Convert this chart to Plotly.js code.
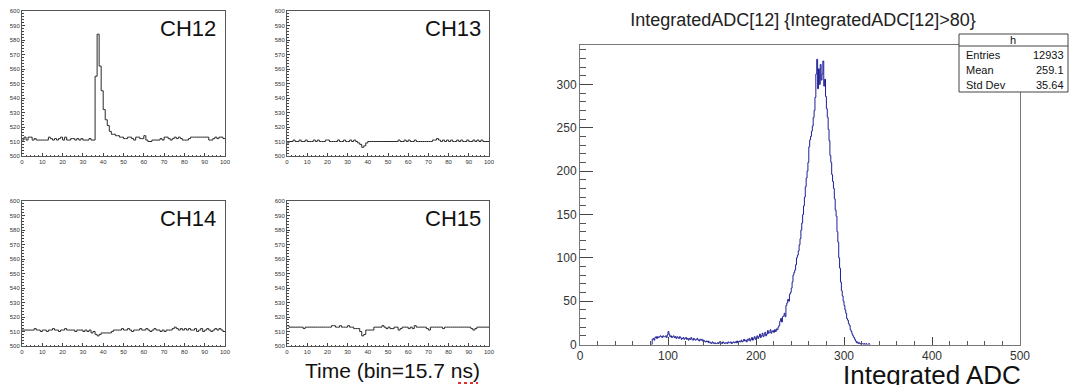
<!DOCTYPE html>
<html>
<head>
<meta charset="utf-8">
<script src="https://cdn.plot.ly/plotly-3.0.1.min.js"></script>
<style>
html,body{margin:0;padding:0;background:#fff;}
#chart{width:1069px;height:385px;}
</style>
</head>
<body>
<div id="chart"></div>
<script>
// ---------- data ----------
var channelNames = ["CH12", "CH13", "CH14", "CH15"];
var timeFirstBin = 0;   // time bins 0..99 (bin = 15.7 ns)

var ch12 = [511,513,511,513,513,511,512,511,511,511, 511,511,511,513,512,511,512,511,512,513,
            511,513,511,511,512,512,511,512,511,512, 511,511,511,512,511,511,555,584,562,545,
            532,525,521,517,515,515,514,514,513,513, 512,512,513,513,512,511,513,513,512,512,
            514,511,510,510,511,511,511,511,512,511, 513,513,512,511,512,513,512,513,512,511,
            511,511,512,513,513,513,513,513,513,513, 513,513,511,511,512,513,512,513,513,512];
var ch13 = [509,510,510,511,510,510,511,510,510,511, 510,510,510,511,510,511,510,510,510,511,
            511,510,510,510,510,511,510,510,511,510, 510,511,510,511,510,509,508,506,507,509,
            510,510,510,510,510,510,510,510,510,510, 510,510,510,510,510,511,510,510,511,510,
            511,510,510,511,510,510,510,510,510,510, 510,510,511,511,512,511,510,511,510,511,
            510,511,510,510,511,510,511,510,510,511, 510,510,511,510,511,510,511,510,510,510];
var ch14 = [511,511,511,511,511,511,512,511,511,510, 511,511,510,511,511,512,511,511,510,511,
            511,512,511,511,511,511,510,511,511,511, 510,511,510,511,509,510,508,507,508,509,
            509,509,509,509,510,511,511,511,511,512, 511,511,512,511,510,511,511,511,512,511,
            511,512,511,510,511,512,511,511,510,511, 510,511,511,511,512,513,512,511,512,511,
            512,511,512,511,511,512,510,511,512,510, 511,512,511,510,511,512,511,512,511,510];
var ch15 = [514,513,513,513,513,513,513,513,512,513, 513,513,513,513,513,513,513,513,513,513,
            513,513,514,514,513,513,514,513,513,513, 514,513,513,512,512,512,510,507,508,511,
            511,511,511,513,513,513,513,514,513,512, 513,512,512,513,513,511,512,513,513,513,
            512,513,512,514,513,513,513,513,513,512, 511,513,513,513,513,513,513,512,513,513,
            513,513,513,513,513,513,513,513,513,513, 513,512,511,512,513,513,513,513,513,513];

var adcFirstBin = 80;   // histogram bins of width 1 starting at ADC 80
var adcCounts = [
  0,0,6,7,5,8,9,7,9,8,            // 80-89
  9,10,9,8,10,9,9,10,8,11,        // 90-99
  15,12,9,10,8,9,10,8,9,7,        // 100-109
  9,8,7,9,8,6,7,8,6,7,            // 110-119
  8,6,7,5,7,6,8,6,5,7,            // 120-129
  6,5,6,7,5,4,6,5,6,4,            // 130-139
  5,4,3,4,3,4,2,3,2,1,            // 140-149
  3,2,1,2,1,1,2,1,3,2,            // 150-159
  2,1,3,2,1,2,2,1,3,2,            // 160-169
  2,3,1,2,3,2,3,2,4,2,            // 170-179
  3,4,3,5,3,4,6,4,5,3,            // 180-189
  6,5,7,4,6,8,5,7,9,6,            // 190-199
  8,10,7,9,12,8,10,13,9,11,       // 200-209
  14,10,12,16,13,14,17,13,15,16,  // 210-219
  14,17,15,18,17,20,22,27,30,26,  // 220-229
  32,33,36,32,45,48,52,50,58,60,  // 230-239
  65,72,80,83,86,92,100,103,108,115,      // 240-249
  122,132,140,150,160,170,182,192,200,210,// 250-259
  228,236,240,246,252,262,270,285,312,329,// 260-269
  295,318,300,323,305,312,327,298,306,286,// 270-279
  272,262,248,235,218,210,196,188,180,168,// 280-289
  155,148,130,118,100,88,72,62,56,50,     // 290-299
  45,40,36,30,28,24,22,17,15,12,          // 300-309
  10,8,6,4,2,3,1,2,1,0,                   // 310-319
  1,1,0,1,0,1,0,0,1,0                     // 320-329
];

var histTitle = "IntegratedADC[12] {IntegratedADC[12]>80}";
var statsName = "h";
var statsLabels = ["Entries", "Mean", "Std Dev"];
var statsValues = ["12933", "259.1", "35.64"];
var timeAxisLabel = "Time (bin=15.7 ns)";
var adcAxisLabel = "Integrated ADC";

// ---------- helpers ----------
var W = 1069, H = 385;
function px(x){ return x / W; }
function py(y){ return 1 - y / H; }

function stepTrace(first, vals, xa, ya, color){
  var xs = [], ys = [];
  for (var i = 0; i < vals.length; i++){ xs.push(first + i); ys.push(vals[i]); }
  xs.push(first + vals.length); ys.push(vals[vals.length - 1]);
  return {type:'scatter', mode:'lines', x:xs, y:ys, xaxis:xa, yaxis:ya,
          line:{shape:'hv', color:color, width:1}, hoverinfo:'skip', showlegend:false};
}

var FONT = "Liberation Sans, Arial, Helvetica, sans-serif";

function smallX(x0, x1, anchor){
  return {domain:[px(x0), px(x1)], anchor:anchor, range:[0,100], tick0:0, dtick:10,
    ticks:'inside', ticklen:3, tickwidth:1, tickcolor:'#444',
    showline:true, mirror:true, linecolor:'#555', linewidth:1,
    showgrid:false, zeroline:false, fixedrange:true,
    tickfont:{size:6, color:'#333', family:FONT},
    minor:{ticks:'inside', dtick:2, ticklen:1.5, tickcolor:'#444', showgrid:false}};
}
function smallY(y0, y1, anchor){
  return {domain:[py(y1), py(y0)], anchor:anchor, range:[500,600], tick0:500, dtick:10,
    ticks:'inside', ticklen:3, tickwidth:1, tickcolor:'#444',
    showline:true, mirror:true, linecolor:'#555', linewidth:1,
    showgrid:false, zeroline:false, fixedrange:true,
    tickfont:{size:6, color:'#333', family:FONT},
    minor:{ticks:'inside', dtick:2, ticklen:1.5, tickcolor:'#444', showgrid:false}};
}

var panelColor = '#2a2a2a';
var data = [
  stepTrace(timeFirstBin, ch12, 'x',  'y',  panelColor),
  stepTrace(timeFirstBin, ch13, 'x2', 'y2', panelColor),
  stepTrace(timeFirstBin, ch14, 'x3', 'y3', panelColor),
  stepTrace(timeFirstBin, ch15, 'x4', 'y4', panelColor),
  stepTrace(adcFirstBin, adcCounts, 'x5', 'y5', '#1f1f96')
];

var adcMax = Math.max.apply(null, adcCounts) * 1.05;

var layout = {
  width:W, height:H, autosize:false,
  margin:{l:0, r:0, t:0, b:0, pad:0},
  paper_bgcolor:'#fff', plot_bgcolor:'#fff',
  font:{family:FONT, color:'#222'},
  showlegend:false,
  title:{text:histTitle, x:px(803), xanchor:'center', y:py(20), yanchor:'middle',
         xref:'paper', yref:'paper', font:{size:18, color:'#222', family:FONT}},
  xaxis:  smallX(22, 225, 'y'),
  yaxis:  smallY(11, 156, 'x'),
  xaxis2: smallX(287, 489, 'y2'),
  yaxis2: smallY(11, 156, 'x2'),
  xaxis3: smallX(22, 225, 'y3'),
  yaxis3: smallY(201, 346, 'x3'),
  xaxis4: smallX(287, 489, 'y4'),
  yaxis4: smallY(201, 346, 'x4'),
  xaxis5: {domain:[px(580), px(1020)], anchor:'y5', range:[0,500], tick0:0, dtick:100,
    ticks:'inside', ticklen:8, tickwidth:1, tickcolor:'#444',
    showline:true, mirror:true, linecolor:'#777', linewidth:1,
    showgrid:false, zeroline:false, fixedrange:true,
    tickfont:{size:12, color:'#333', family:FONT},
    minor:{ticks:'inside', dtick:20, ticklen:4, tickcolor:'#555', showgrid:false}},
  yaxis5: {domain:[py(344.5), py(45)], anchor:'x5', range:[0, adcMax], tick0:0, dtick:50,
    ticks:'inside', ticklen:13, tickwidth:1, tickcolor:'#444',
    showline:true, mirror:true, linecolor:'#777', linewidth:1,
    showgrid:false, zeroline:false, fixedrange:true,
    tickfont:{size:12, color:'#333', family:FONT},
    minor:{ticks:'inside', dtick:10, ticklen:6, tickcolor:'#555', showgrid:false}},
  annotations:[], shapes:[]
};

// channel labels
var chPos = [[218,28],[483,28],[218,218],[483,218]];
for (var c = 0; c < channelNames.length; c++){
  layout.annotations.push({text:channelNames[c], xref:'paper', yref:'paper',
    x:px(chPos[c][0]), y:py(chPos[c][1]), xanchor:'right', yanchor:'middle',
    showarrow:false, font:{size:22, color:'#111', family:FONT}});
}
// axis labels
layout.annotations.push({text:timeAxisLabel, xref:'paper', yref:'paper',
  x:px(392), y:py(370), xanchor:'center', yanchor:'middle', showarrow:false,
  font:{size:21, color:'#111', family:FONT}});
layout.annotations.push({text:adcAxisLabel, xref:'paper', yref:'paper',
  x:px(1023), y:py(375), xanchor:'right', yanchor:'middle', showarrow:false,
  font:{size:26, color:'#111', family:FONT}});
// spell-check underline under "ns"
layout.shapes.push({type:'line', xref:'paper', yref:'paper',
  x0:px(458), x1:px(478), y0:py(383), y1:py(383),
  line:{color:'#e03030', width:2, dash:'dot'}});

// stats box
layout.shapes.push({type:'rect', xref:'paper', yref:'paper',
  x0:px(959), x1:px(1068), y0:py(92), y1:py(34),
  line:{color:'#444', width:1}, fillcolor:'#fff', layer:'above'});
layout.shapes.push({type:'line', xref:'paper', yref:'paper',
  x0:px(959), x1:px(1068), y0:py(46), y1:py(46),
  line:{color:'#444', width:1}, layer:'above'});
layout.annotations.push({text:statsName, xref:'paper', yref:'paper',
  x:px(1013), y:py(40), xanchor:'center', yanchor:'middle', showarrow:false,
  font:{size:11, color:'#111', family:FONT}});
var rowY = [55, 70, 85];
for (var r = 0; r < statsLabels.length; r++){
  layout.annotations.push({text:statsLabels[r], xref:'paper', yref:'paper',
    x:px(964), y:py(rowY[r]), xanchor:'left', yanchor:'middle', showarrow:false,
    font:{size:11, color:'#111', family:FONT}});
  layout.annotations.push({text:statsValues[r], xref:'paper', yref:'paper',
    x:px(1066), y:py(rowY[r]), xanchor:'right', yanchor:'middle', showarrow:false,
    font:{size:11, color:'#111', family:FONT}});
}

Plotly.newPlot('chart', data, layout, {staticPlot:true, displayModeBar:false});
</script>
</body>
</html>
